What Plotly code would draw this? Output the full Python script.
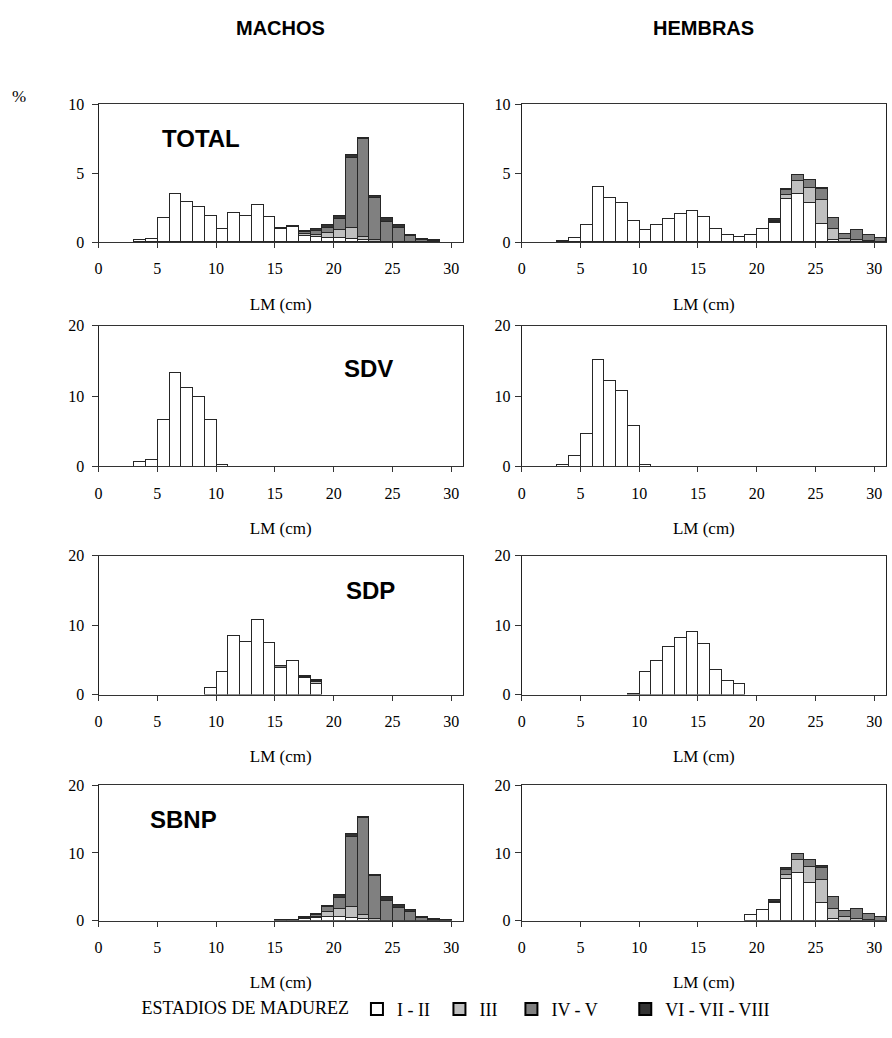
import plotly.graph_objects as go

W, H = 892, 1038

# Length classes (cm), each bar covers [bin, bin+1)
bins = [3, 4, 5, 6, 7, 8, 9, 10, 11, 12, 13, 14, 15, 16, 17, 18, 19, 20, 21, 22, 23, 24, 25, 26, 27, 28, 29, 30]

stage_names = ["I - II", "III", "IV - V", "VI - VII - VIII"]
stage_colors = ["#FFFFFF", "#C0C0C0", "#808080", "#333333"]

# ---- TOTAL, machos (%) ----
tot_m_12 = [0.15, 0.2, 1.7, 3.43, 2.85, 2.5, 1.87, 0.9, 2.07, 1.86, 2.64, 1.78, 0.9, 1.1, 0.45, 0.35, 0.3, 0.25, 0.2, 0.1, 0, 0, 0, 0, 0, 0, 0, 0]
tot_m_3 = [0, 0, 0, 0, 0, 0, 0, 0, 0, 0, 0, 0, 0, 0, 0.1, 0.15, 0.35, 0.6, 0.8, 0.25, 0.1, 0, 0, 0, 0, 0, 0, 0]
tot_m_45 = [0, 0, 0, 0, 0, 0, 0, 0, 0, 0, 0, 0, 0.05, 0.05, 0.15, 0.3, 0.35, 0.8, 5.1, 7.1, 3.1, 1.4, 1.0, 0.4, 0.15, 0.05, 0, 0]
tot_m_68 = [0, 0, 0, 0, 0, 0, 0, 0, 0, 0, 0, 0, 0.05, 0, 0.05, 0.1, 0.2, 0.2, 0.2, 0.1, 0.1, 0.3, 0.2, 0.1, 0.05, 0.05, 0, 0]

# ---- TOTAL, hembras (%) ----
tot_h_12 = [0.05, 0.3, 1.2, 4.0, 3.14, 2.8, 1.5, 0.85, 1.2, 1.64, 2.0, 2.2, 1.8, 0.9, 0.5, 0.35, 0.5, 0.9, 1.35, 3.07, 3.48, 2.78, 1.3, 0.15, 0, 0, 0, 0]
tot_h_3 = [0, 0, 0, 0, 0, 0, 0, 0, 0, 0, 0, 0, 0, 0, 0, 0, 0, 0, 0.05, 0.3, 0.9, 1.12, 1.7, 0.75, 0.2, 0.15, 0.05, 0]
tot_h_45 = [0, 0, 0, 0, 0, 0, 0, 0, 0, 0, 0, 0, 0, 0, 0, 0, 0, 0, 0.1, 0.35, 0.48, 0.55, 0.8, 0.8, 0.35, 0.7, 0.45, 0.25]
tot_h_68 = [0, 0, 0, 0, 0, 0, 0, 0, 0, 0, 0, 0, 0, 0, 0, 0, 0, 0, 0.14, 0.08, 0, 0, 0.1, 0, 0, 0, 0, 0]

# ---- SDV ----
sdv_m_12 = [0.7, 0.9, 6.6, 13.3, 11.15, 9.86, 6.6, 0.3, 0, 0, 0, 0, 0, 0, 0, 0, 0, 0, 0, 0, 0, 0, 0, 0, 0, 0, 0, 0]
sdv_h_12 = [0.3, 1.5, 4.6, 15.2, 12.2, 10.8, 5.8, 0.3, 0, 0, 0, 0, 0, 0, 0, 0, 0, 0, 0, 0, 0, 0, 0, 0, 0, 0, 0, 0]

# ---- SDP ----
sdp_m_12 = [0, 0, 0, 0, 0, 0, 0.9, 3.26, 8.46, 7.6, 10.7, 7.5, 3.9, 4.9, 2.4, 1.6, 0, 0, 0, 0, 0, 0, 0, 0, 0, 0, 0, 0]
sdp_m_3 = [0, 0, 0, 0, 0, 0, 0, 0, 0, 0, 0, 0, 0, 0, 0.1, 0.2, 0, 0, 0, 0, 0, 0, 0, 0, 0, 0, 0, 0]
sdp_m_45 = [0, 0, 0, 0, 0, 0, 0, 0, 0, 0, 0, 0, 0.3, 0, 0.15, 0.2, 0, 0, 0, 0, 0, 0, 0, 0, 0, 0, 0, 0]
sdp_m_68 = [0, 0, 0, 0, 0, 0, 0, 0, 0, 0, 0, 0, 0, 0, 0, 0.1, 0, 0, 0, 0, 0, 0, 0, 0, 0, 0, 0, 0]
sdp_h_12 = [0, 0, 0, 0, 0, 0, 0.1, 3.26, 4.8, 6.9, 8.2, 9.0, 7.3, 3.6, 1.95, 1.5, 0, 0, 0, 0, 0, 0, 0, 0, 0, 0, 0, 0]

# ---- SBNP ----
sbnp_m_12 = [0, 0, 0, 0, 0, 0, 0, 0, 0, 0, 0, 0, 0.1, 0.1, 0.3, 0.4, 0.6, 0.5, 0.4, 0.2, 0, 0, 0, 0, 0, 0, 0, 0]
sbnp_m_3 = [0, 0, 0, 0, 0, 0, 0, 0, 0, 0, 0, 0, 0, 0, 0.1, 0.2, 0.7, 1.3, 1.6, 0.6, 0.3, 0, 0, 0, 0, 0, 0, 0]
sbnp_m_45 = [0, 0, 0, 0, 0, 0, 0, 0, 0, 0, 0, 0, 0, 0, 0.1, 0.3, 0.7, 1.6, 10.4, 14.3, 6.3, 2.9, 1.9, 1.3, 0.4, 0.15, 0.05, 0]
sbnp_m_68 = [0, 0, 0, 0, 0, 0, 0, 0, 0, 0, 0, 0, 0, 0, 0, 0.1, 0.2, 0.4, 0.4, 0.2, 0.2, 0.6, 0.4, 0.3, 0.1, 0.05, 0, 0]
sbnp_h_12 = [0, 0, 0, 0, 0, 0, 0, 0, 0, 0, 0, 0, 0, 0, 0, 0, 0.8, 1.6, 2.6, 6.1, 7.0, 5.6, 2.6, 0.3, 0, 0, 0, 0]
sbnp_h_3 = [0, 0, 0, 0, 0, 0, 0, 0, 0, 0, 0, 0, 0, 0, 0, 0, 0, 0, 0.1, 0.6, 1.9, 2.3, 3.4, 1.5, 0.5, 0.3, 0.1, 0]
sbnp_h_45 = [0, 0, 0, 0, 0, 0, 0, 0, 0, 0, 0, 0, 0, 0, 0, 0, 0, 0, 0.1, 0.8, 1.0, 1.1, 1.8, 1.7, 1.0, 1.5, 0.9, 0.5]
sbnp_h_68 = [0, 0, 0, 0, 0, 0, 0, 0, 0, 0, 0, 0, 0, 0, 0, 0, 0, 0, 0.2, 0.2, 0, 0, 0.2, 0, 0, 0, 0, 0]

x_ticks = [0, 5, 10, 15, 20, 25, 30]

# panel: (row, col, label, y max, y ticks, [stage arrays])
panels = [
    (0, 0, "TOTAL", 10, [0, 5, 10], [tot_m_12, tot_m_3, tot_m_45, tot_m_68]),
    (0, 1, None, 10, [0, 5, 10], [tot_h_12, tot_h_3, tot_h_45, tot_h_68]),
    (1, 0, "SDV", 20, [0, 10, 20], [sdv_m_12, None, None, None]),
    (1, 1, None, 20, [0, 10, 20], [sdv_h_12, None, None, None]),
    (2, 0, "SDP", 20, [0, 10, 20], [sdp_m_12, sdp_m_3, sdp_m_45, sdp_m_68]),
    (2, 1, None, 20, [0, 10, 20], [sdp_h_12, None, None, None]),
    (3, 0, "SBNP", 20, [0, 10, 20], [sbnp_m_12, sbnp_m_3, sbnp_m_45, sbnp_m_68]),
    (3, 1, None, 20, [0, 10, 20], [sbnp_h_12, sbnp_h_3, sbnp_h_45, sbnp_h_68]),
]

# layout geometry in pixels
col_px = [(95, 461), (520, 886)]
row_px = [(98, 238), (323, 466), (557, 698), (790, 928)]
label_px = {"TOTAL": (157, 133), "SDV": (340, 366), "SDP": (342, 592), "SBNP": (145, 825)}

SERIF = "Liberation Serif, Times New Roman, serif"
SANS = "Liberation Sans, Arial, sans-serif"
NB = "\u00a0"

fig = go.Figure()
layout = dict(
    width=W, height=H, margin=dict(l=0, r=0, t=0, b=0),
    paper_bgcolor="white", plot_bgcolor="white",
    barmode="stack", bargap=0, showlegend=True,
    font=dict(family=SERIF, size=16, color="black"),
)
annotations = []
centers = [b + 0.5 for b in bins]

for k, (r, c, label, ymax, yt, stages) in enumerate(panels, start=1):
    xa = "x" if k == 1 else f"x{k}"
    ya = "y" if k == 1 else f"y{k}"
    for s, arr in enumerate(stages):
        if arr is None:
            continue
        fig.add_trace(go.Bar(
            x=centers, y=[v if v else None for v in arr], width=1.0,
            marker=dict(color=stage_colors[s], line=dict(color="#262626", width=1)),
            name=stage_names[s], legendgroup=stage_names[s],
            showlegend=False, xaxis=xa, yaxis=ya,
        ))
    x0, x1 = col_px[c]
    y0, y1 = row_px[r]
    layout["xaxis" if k == 1 else f"xaxis{k}"] = dict(
        domain=[x0 / W, x1 / W], anchor=ya, range=[0, 31],
        tickmode="array", tickvals=x_ticks, ticks="outside", ticklen=5,
        tickcolor="#333", showline=True, linecolor="#333", linewidth=1, mirror=True,
        showgrid=False, zeroline=False, ticklabelstandoff=7,
        tickfont=dict(family=SERIF, size=16, color="black"),
        title=dict(text="LM (cm)", font=dict(family=SERIF, size=17, color="black"), standoff=21),
    )
    layout["yaxis" if k == 1 else f"yaxis{k}"] = dict(
        domain=[1 - y1 / H, 1 - y0 / H], anchor=xa, range=[0, ymax],
        tickmode="array", tickvals=yt, ticks="outside", ticklen=6,
        tickcolor="#333", showline=True, linecolor="#222", linewidth=1, mirror=True,
        showgrid=False, zeroline=False, ticklabelstandoff=4 if c == 0 else 1,
        tickfont=dict(family=SERIF, size=16, color="black"),
    )
    if label:
        lx, ly = label_px[label]
        annotations.append(dict(
            text=f"<b>{label}</b>", x=lx / W, y=1 - ly / H, xref="paper", yref="paper",
            xanchor="left", yanchor="middle", showarrow=False,
            font=dict(family=SANS, size=24, color="black"),
        ))

# legend-only entries (bigger outline like the original key)
legend_pad = [1, 2, 5, 0]
for s in range(4):
    fig.add_trace(go.Bar(
        x=[None], y=[None], name=stage_names[s] + NB * legend_pad[s],
        marker=dict(color=stage_colors[s], line=dict(color="black", width=2)),
        showlegend=True, xaxis="x", yaxis="y",
    ))

annotations += [
    dict(text="<b>MACHOS</b>", x=278 / W, y=1 - 20 / H, xref="paper", yref="paper",
         showarrow=False, xanchor="center", yanchor="middle",
         font=dict(family=SANS, size=20, color="black")),
    dict(text="<b>HEMBRAS</b>", x=703 / W, y=1 - 20 / H, xref="paper", yref="paper",
         showarrow=False, xanchor="center", yanchor="middle",
         font=dict(family=SANS, size=20, color="black")),
    dict(text="%", x=15 / W, y=1 - 90 / H, xref="paper", yref="paper",
         showarrow=False, xanchor="center", yanchor="middle",
         font=dict(family=SERIF, size=17, color="black")),
]
layout["annotations"] = annotations
layout["legend"] = dict(
    orientation="h", x=136 / W, y=1 - 1018 / H, xanchor="left", yanchor="middle",
    title=dict(text="ESTADIOS DE MADUREZ", side="left", font=dict(family=SERIF, size=18)),
    font=dict(family=SERIF, size=18, color="black"), traceorder="normal",
    bgcolor="rgba(0,0,0,0)",
)
fig.update_layout(**layout)
fig.write_html(
    "out.html",
    config={"displayModeBar": False},
    post_script="document.body.style.margin='0px';document.body.style.overflow='hidden';",
)
